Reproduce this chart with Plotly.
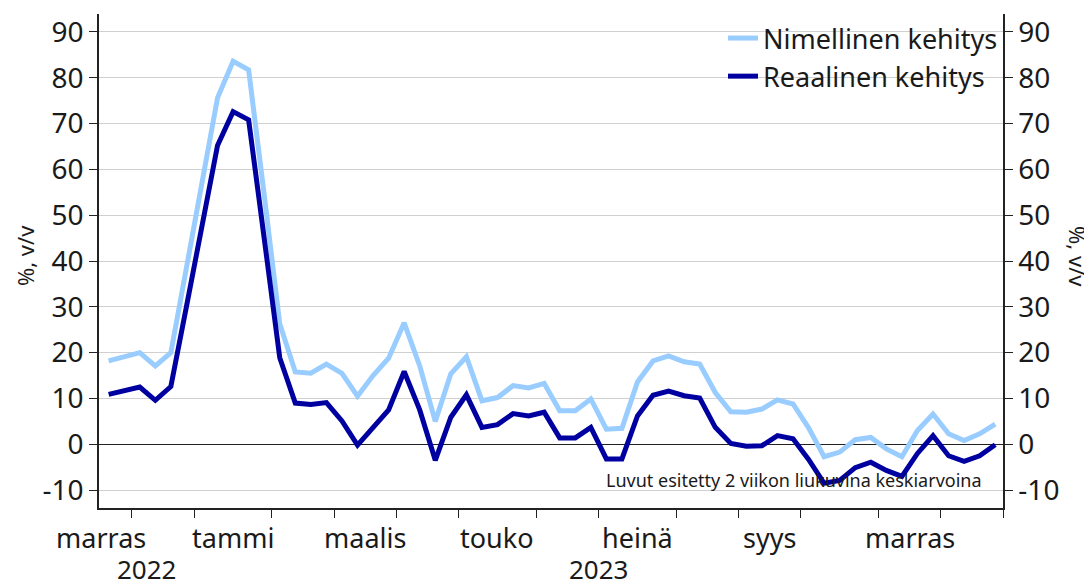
import pandas as pd
import plotly.graph_objects as go

# ---- data (weekly, 2-week moving averages, % y/y) ----
first_week = "2022-11-21"
nominal = [18.2, 19.1, 20.0, 17.1, 20.0, 38.5, 57.0, 75.6, 83.6, 81.7,
           54.5, 26.3, 15.8, 15.5, 17.5, 15.5, 10.5, 15.0, 18.8, 26.5,
           17.1, 5.0, 15.4, 19.1, 9.5, 10.2, 12.8, 12.3, 13.3, 7.3,
           7.3, 9.9, 3.3, 3.5, 13.6, 18.2, 19.3, 18.0, 17.5, 11.3,
           7.1, 7.0, 7.7, 9.7, 8.8, 3.6, -2.7, -1.7, 1.0, 1.5,
           -1.0, -2.7, 3.0, 6.6, 2.3, 0.8, 2.3, 4.4]
real = [10.9, 11.7, 12.5, 9.6, 12.6, 30.0, 48.2, 65.2, 72.6, 70.8,
        45.0, 18.9, 9.0, 8.7, 9.1, 5.1, -0.2, 3.7, 7.5, 15.9,
        7.5, -3.5, 5.9, 10.8, 3.7, 4.3, 6.7, 6.2, 7.0, 1.4,
        1.4, 3.7, -3.2, -3.2, 6.2, 10.7, 11.6, 10.6, 10.1, 3.7,
        0.2, -0.4, -0.3, 1.9, 1.2, -3.3, -8.5, -7.9, -5.1, -3.9,
        -5.7, -7.0, -2.0, 1.9, -2.5, -3.7, -2.5, -0.1]
series_names = ["Nimellinen kehitys", "Reaalinen kehitys"]
y_tick_values = [-10, 0, 10, 20, 30, 40, 50, 60, 70, 80, 90]
y_tick_labels = ["-10", "0", "10", "20", "30", "40", "50", "60", "70", "80", "90"]
tick_months = [(2022, 12), (2023, 1), (2023, 2), (2023, 3), (2023, 4), (2023, 5),
               (2023, 6), (2023, 7), (2023, 8), (2023, 9), (2023, 10), (2023, 11),
               (2023, 12), (2024, 1)]
label_months = [(2022, 11), (2023, 1), (2023, 3), (2023, 5), (2023, 7), (2023, 9), (2023, 11)]
month_labels = ["marras", "tammi", "maalis", "touko", "heinä", "syys", "marras"]
year_labels = ["2022", "2023"]
note_text = "Luvut esitetty 2 viikon liukuvina keskiarvoina"
y_title = "%, v/v"

# ---- week index helpers ----
origin = pd.Timestamp(first_week)
x_idx = list(range(len(nominal)))


def month_boundary(y, m):
    d = pd.Timestamp(y, m, 1)
    monday = d + pd.Timedelta(days=(7 - d.weekday()) % 7)
    return (monday - origin).days / 7 - 0.5


def next_month(y, m):
    return (y + 1, 1) if m == 12 else (y, m + 1)


x_range = [-0.62, month_boundary(2024, 1)]
tickvals = [month_boundary(y, m) for (y, m) in tick_months]

FONT = "Noto Sans"
TXT = "#1a1a1a"
C_NOM = "#99ccff"
C_REAL = "#0000a0"

fig = go.Figure()
fig.add_trace(go.Scatter(x=x_idx, y=nominal, mode="lines", name=series_names[0],
                         line=dict(color=C_NOM, width=5)))
fig.add_trace(go.Scatter(x=x_idx, y=real, mode="lines", name=series_names[1],
                         line=dict(color=C_REAL, width=5)))
fig.add_trace(go.Scatter(x=x_idx, y=real, mode="lines", yaxis="y2", showlegend=False,
                         hoverinfo="skip", line=dict(color="rgba(0,0,0,0)", width=0)))

annotations = []
for (ym, lab) in zip(label_months, month_labels):
    c = (month_boundary(*ym) + month_boundary(*next_month(*ym))) / 2
    annotations.append(dict(x=c, xref="x", y=0, yref="paper", yanchor="middle",
                            xanchor="center", yshift=-29, text=lab, showarrow=False,
                            font=dict(size=27, color=TXT, family=FONT)))
jan23 = month_boundary(2023, 1)
for (lab, c) in zip(year_labels, [(x_range[0] + jan23) / 2, (jan23 + x_range[1]) / 2]):
    annotations.append(dict(x=c, xref="x", y=0, yref="paper", yanchor="middle",
                            xanchor="center", yshift=-61, text=lab, showarrow=False,
                            borderpad=0,
                            font=dict(size=26, color=TXT, family=FONT)))
annotations.append(dict(x=0.979, xref="paper", y=-7.7, yref="y", xanchor="right",
                        yanchor="middle", text=note_text, showarrow=False,
                        font=dict(size=18, color=TXT, family=FONT)))
annotations.append(dict(x=0, xref="paper", xshift=-74, xanchor="center", y=0.51,
                        yref="paper", yanchor="middle", text=y_title, textangle=-90,
                        showarrow=False, font=dict(size=22, color=TXT, family=FONT)))
annotations.append(dict(x=1, xref="paper", xshift=75, xanchor="center", y=0.51,
                        yref="paper", yanchor="middle", text=y_title, textangle=90,
                        showarrow=False, font=dict(size=22, color=TXT, family=FONT)))

yax = dict(range=[-13.9, 93.9], tickmode="array", tickvals=y_tick_values,
           ticktext=y_tick_labels, ticks="outside", ticklen=8,
           tickwidth=1.2, tickcolor="#222", showline=True, linecolor="#222", linewidth=1.5,
           tickfont=dict(size=28, color=TXT, family=FONT))

# page body has an 8px margin, so the figure is made 8px smaller and margins shifted
fig.update_layout(
    width=1084, height=578,
    margin=dict(l=91, r=89, t=4, b=78),
    paper_bgcolor="white", plot_bgcolor="white",
    font=dict(family=FONT, color=TXT),
    showlegend=True,
    legend=dict(x=1, xanchor="right", y=1, yanchor="top", bgcolor="rgba(0,0,0,0)",
                font=dict(size=27, color=TXT, family=FONT), itemwidth=30,
                tracegroupgap=0),
    xaxis=dict(range=x_range, tickvals=tickvals, ticktext=[""] * len(tickvals),
               ticks="outside", ticklen=8, tickwidth=1.2, tickcolor="#222",
               showline=True, linecolor="#222", linewidth=1.5,
               showgrid=False, zeroline=False),
    yaxis=dict(**yax, showgrid=True, gridcolor="#d0d0d0", gridwidth=1,
               zeroline=True, zerolinecolor="#222", zerolinewidth=1.3),
    yaxis2=dict(**yax, overlaying="y", side="right", showgrid=False, zeroline=False),
    annotations=annotations,
)

fig.write_html("out.html")
